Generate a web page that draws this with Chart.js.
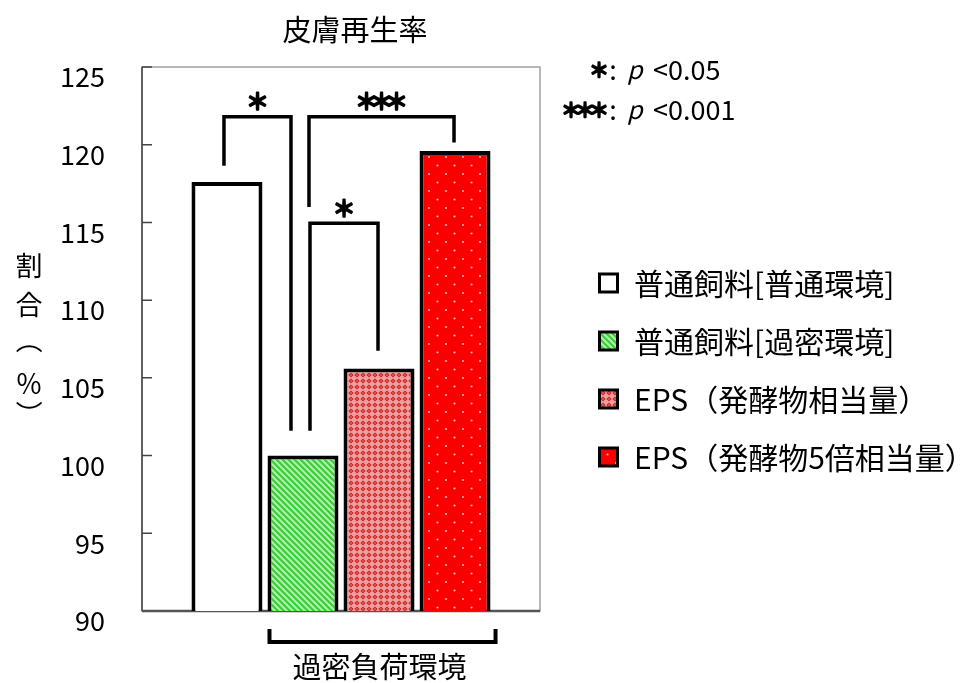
<!DOCTYPE html>
<html>
<head>
<meta charset="utf-8">
<script src="https://cdn.jsdelivr.net/npm/chart.js@4/dist/chart.umd.min.js"></script>
<style>
  html, body { margin: 0; padding: 0; background: #fff; }
  #wrap { width: 961px; height: 683px; }
</style>
</head>
<body>
<div id="wrap"><canvas id="c" width="961" height="683"></canvas></div>
<script>
// ---- data ----
const chartTitle = '皮膚再生率';
const seriesNames = ['普通飼料[普通環境]', '普通飼料[過密環境]', 'EPS（発酵物相当量）', 'EPS（発酵物5倍相当量）'];
const seriesValues = [117.6, 100.0, 105.6, 119.6];
const yTicks = [90, 95, 100, 105, 110, 115, 120, 125];
const yAxisTitle = ['割', '合', '（', '％', '）'];
const groupLabel = '過密負荷環境';
const groupMembers = [1, 3];            // first and last series under the group bracket
// significance comparisons: [series a, series b, number of stars]
const sigPairs = [[0, 1, 1], [1, 3, 3], [1, 2, 1]];
const sigNotes = [[1, '<0.05'], [3, '<0.001']];

const FONT = '"Noto Sans CJK JP", "Noto Sans", sans-serif';
const canvas = document.getElementById('c');
const ctx = canvas.getContext('2d');

function makePattern(w, h, draw) {
  const c = document.createElement('canvas');
  c.width = w; c.height = h;
  const g = c.getContext('2d');
  draw(g, w, h);
  return ctx.createPattern(c, 'repeat');
}

// plain white
const fillWhite = '#ffffff';
// green with light diagonal stripes
const fillGreen = makePattern(6, 6, (g, w, h) => {
  g.fillStyle = '#38cf38';
  g.fillRect(0, 0, w, h);
  g.strokeStyle = '#b4efae';
  g.lineWidth = 2;
  for (let k = -1; k <= 1; k++) {
    g.beginPath();
    g.moveTo(k * w - 1, -1);
    g.lineTo(k * w + w + 1, h + 1);
    g.stroke();
  }
});
// pink/red mesh
const fillMesh = makePattern(6, 6, (g, w, h) => {
  g.fillStyle = '#eca0a0';
  g.fillRect(0, 0, w, h);
  g.fillStyle = '#cf2020';
  g.beginPath();
  g.moveTo(3, 0.4); g.lineTo(5.6, 3); g.lineTo(3, 5.6); g.lineTo(0.4, 3); g.closePath();
  g.fill();
  g.fillStyle = '#f7dada';
  g.fillRect(2.5, 2.5, 1, 1);
});
// red with small light dots
const fillDots = makePattern(17, 17, (g, w, h) => {
  g.fillStyle = '#fb0000';
  g.fillRect(0, 0, w, h);
  g.fillStyle = '#ffb4b4';
  g.beginPath(); g.arc(4, 4, 1.1, 0, Math.PI * 2); g.fill();
  g.beginPath(); g.arc(12.5, 12.5, 1.1, 0, Math.PI * 2); g.fill();
});
const fills = [fillWhite, fillGreen, fillMesh, fillDots];

// a row of bold asterisks centred on (cx, cy)
function drawStars(g, n, cx, cy, size, gap) {
  g.save();
  g.font = `bold ${size}px ${FONT}`;
  g.textAlign = 'center';
  g.textBaseline = 'middle';
  g.fillStyle = '#000';
  g.strokeStyle = '#000';
  g.lineWidth = 1.6;
  g.lineJoin = 'round';
  for (let i = 0; i < n; i++) {
    const x = cx + (i - (n - 1) / 2) * gap;
    g.fillText('＊', x, cy);
    g.strokeText('＊', x, cy);
  }
  g.restore();
}

// frame around the plot area with inward tick marks
const framePlugin = {
  id: 'frame',
  beforeDatasetsDraw(chart) {
    const { ctx: g, chartArea: a, scales: { y } } = chart;
    g.save();
    g.strokeStyle = '#a0a0a0';
    g.lineWidth = 1.5;
    g.strokeRect(a.left, a.top, a.right - a.left, a.bottom - a.top);
    g.strokeStyle = '#444';
    g.lineWidth = 1.5;
    g.beginPath();
    g.moveTo(a.left, a.top); g.lineTo(a.left, a.bottom);
    yTicks.forEach(v => {
      const py = y.getPixelForValue(v);
      g.moveTo(a.left, py); g.lineTo(a.left + 10, py);
    });
    g.stroke();
    g.strokeStyle = '#555';
    g.lineWidth = 2.5;
    g.beginPath();
    g.moveTo(a.left, a.bottom); g.lineTo(a.right, a.bottom);
    g.stroke();
    g.restore();
  }
};

// title, axis title, legend, significance brackets and group bracket
const notesPlugin = {
  id: 'notes',
  afterDraw(chart) {
    const g = chart.ctx;
    const a = chart.chartArea;
    const y = chart.scales.y;
    const bar = i => chart.getDatasetMeta(i).data[0];

    g.save();
    g.fillStyle = '#000';
    g.textBaseline = 'middle';

    // title
    g.font = `29px ${FONT}`;
    g.textAlign = 'center';
    g.fillText(chartTitle, 355, 30);

    // vertical y-axis title (brackets turned for vertical writing)
    g.font = `27px ${FONT}`;
    const titleY = [266, 305, 340, 384, 414];
    yAxisTitle.forEach((ch, i) => {
      if (ch === '（' || ch === '）') {
        g.save();
        g.translate(29, titleY[i]);
        g.rotate(Math.PI / 2);
        g.fillText(ch, 0, 0);
        g.restore();
      } else {
        g.fillText(ch, 29, titleY[i]);
      }
    });

    // legend
    g.textAlign = 'left';
    g.font = `30px ${FONT}`;
    seriesNames.forEach((name, i) => {
      const cy = 283 + i * 58;
      const bx = 598, bs = 21;
      g.fillStyle = '#000';
      g.fillRect(bx, cy - bs / 2, bs, bs);
      g.fillStyle = fills[i];
      g.fillRect(bx + 3, cy - bs / 2 + 3, bs - 6, bs - 6);
      g.fillStyle = '#000';
      g.fillText(name, bx + 36, cy + 1);
    });

    // p-value key
    sigNotes.forEach(([n, txt], i) => {
      const cy = 70 + i * 40;
      drawStars(g, n, 599 - (n - 1) * 7, cy, 20, 14);
      g.fillStyle = '#000';
      g.font = `27px ${FONT}`;
      g.textAlign = 'center';
      g.fillText(':', 613, cy);
      g.font = `italic 25px ${FONT}`;
      g.textAlign = 'left';
      g.fillText('p', 627, cy - 1);
      g.font = `27px ${FONT}`;
      g.fillText(txt, 653, cy);
    });

    // significance brackets (levels in value units)
    const brackets = [
      { top: 121.8, legA: 118.65, legB: 101.6, dxA: -3, dxB: -12 },
      { top: 121.8, legA: 116.0, legB: 120.15, dxA: 6, dxB: -1 },
      { top: 114.95, legA: 101.6, legB: 106.75, dxA: 7, dxB: -1 }
    ];
    g.strokeStyle = '#000';
    g.lineWidth = 3.5;
    g.lineJoin = 'miter';
    sigPairs.forEach(([i, j, n], k) => {
      const b = brackets[k];
      const xa = bar(i).x + b.dxA, xb = bar(j).x + b.dxB;
      const yt = y.getPixelForValue(b.top);
      g.beginPath();
      g.moveTo(xa, y.getPixelForValue(b.legA));
      g.lineTo(xa, yt);
      g.lineTo(xb, yt);
      g.lineTo(xb, y.getPixelForValue(b.legB));
      g.stroke();
      drawStars(g, n, (xa + xb) / 2, yt - 15, 23, 15);
    });

    // group bracket under the bars
    const b0 = bar(groupMembers[0]), b1 = bar(groupMembers[1]);
    const gl = b0.x - b0.width / 2 + 2, gr = b1.x + b1.width / 2 + 5;
    const gt = a.bottom + 18, gb = a.bottom + 31;
    g.strokeStyle = '#000';
    g.lineWidth = 4;
    g.beginPath();
    g.moveTo(gl, gt); g.lineTo(gl, gb); g.lineTo(gr, gb); g.lineTo(gr, gt);
    g.stroke();
    g.fillStyle = '#000';
    g.font = `29px ${FONT}`;
    g.textAlign = 'center';
    g.fillText(groupLabel, (gl + gr) / 2 - 3, 667);

    g.restore();
  }
};

new Chart(ctx, {
  type: 'bar',
  data: {
    labels: [''],
    datasets: seriesNames.map((name, i) => ({
      label: name,
      data: [seriesValues[i]],
      backgroundColor: fills[i],
      borderColor: '#000',
      borderWidth: 4,
      borderSkipped: false
    }))
  },
  options: {
    responsive: false,
    animation: false,
    events: [],
    layout: { padding: { left: 0, top: 67, right: 421, bottom: 72 } },
    datasets: { bar: { categoryPercentage: 0.764, barPercentage: 0.934 } },
    plugins: {
      legend: { display: false },
      title: { display: false },
      tooltip: { enabled: false }
    },
    scales: {
      x: { display: false },
      y: {
        min: 90,
        max: 125,
        afterFit(scale) { scale.width = 142; },
        grid: { display: false, drawTicks: false },
        border: { display: false },
        ticks: {
          stepSize: 5,
          padding: 37,
          labelOffset: 10,
          color: '#000',
          font: { family: FONT, size: 27 }
        }
      }
    }
  },
  plugins: [framePlugin, notesPlugin]
});
</script>
</body>
</html>
